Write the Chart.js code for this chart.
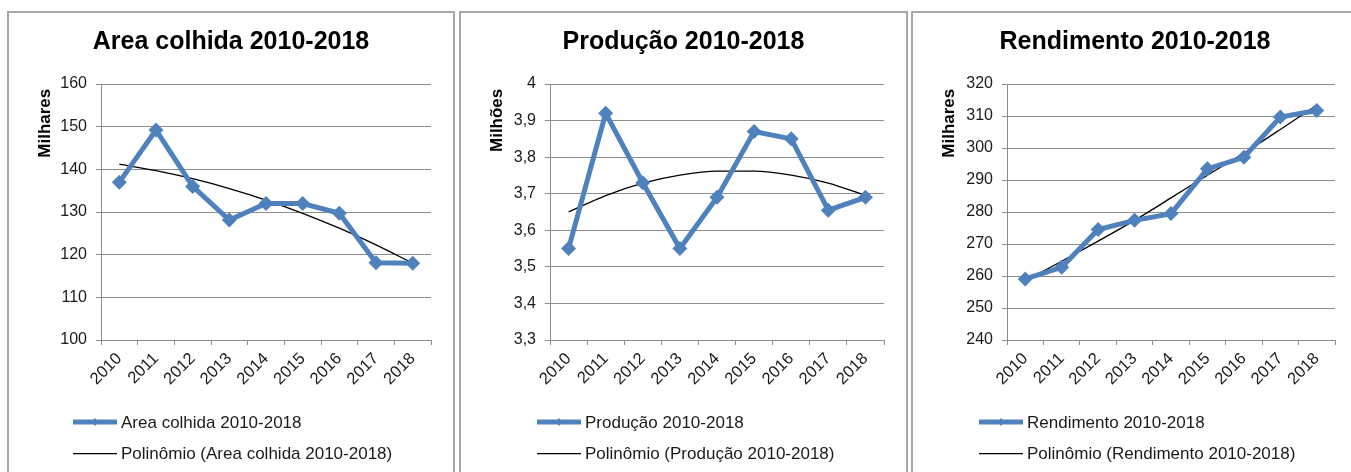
<!DOCTYPE html>
<html>
<head>
<meta charset="utf-8">
<script src="https://cdn.jsdelivr.net/npm/chart.js@4.4.1/dist/chart.umd.min.js"></script>
<style>
    html, body { margin: 0; padding: 0; background: #fff; overflow: hidden; }
    body { width: 1351px; height: 472px; position: relative; }
    .panel {
        position: absolute;
        top: 11px;
        height: 480px;
        border: 2px solid #a8a8a8;
        background: #fff;
    }
    .panel canvas { display: block; }
</style>
</head>
<body>
<div class="panel" style="left:7px; width:444px;"><canvas id="areaChart" width="444" height="459"></canvas></div>
<div class="panel" style="left:459px; width:445px;"><canvas id="prodChart" width="445" height="459"></canvas></div>
<div class="panel" style="left:911px; width:444px;"><canvas id="rendChart" width="444" height="459"></canvas></div>

<script>
// Dados 2010-2018
const years = ['2010', '2011', '2012', '2013', '2014', '2015', '2016', '2017', '2018'];

const areaColhida = [137, 149.2, 136, 128.1, 132, 132, 129.7, 118.1, 118];
const areaTrend = [141.2, 139.7, 137.8, 135.5, 132.8, 129.7, 126.2, 122.3, 118.0];

const producao = [3.55, 3.92, 3.73, 3.55, 3.69, 3.87, 3.85, 3.655, 3.69];
const producaoTrend = [3.65, 3.695, 3.729, 3.751, 3.762, 3.762, 3.751, 3.729, 3.695];

const rendimento = [259.1, 262.7, 274.5, 277.4, 279.5, 293.5, 297.1, 309.7, 311.7];
const rendimentoTrend = [258.5, 264.6, 270.9, 277.4, 284.4, 291.5, 298.4, 305.8, 313.4];

const BLUE = '#4f81bd';
const GRID = '#8c8c8c';
const TEXT = '#1a1a1a';
const FONT = "'Liberation Sans', Arial, sans-serif";

// legenda desenhada abaixo do eixo x (uma linha por série)
const bottomLegend = {
    id: 'bottomLegend',
    afterDraw(chart, args, opts) {
        const ctx = chart.ctx;
        const base = chart.chartArea.bottom + 82;
        ctx.save();
        chart.data.datasets.forEach((ds, i) => {
            const y = base + i * 31.6;
            const x0 = opts.x;
            const x1 = x0 + 44;
            ctx.strokeStyle = ds.borderColor;
            ctx.lineWidth = ds.borderWidth;
            ctx.beginPath();
            ctx.moveTo(x0, y);
            ctx.lineTo(x1, y);
            ctx.stroke();
            if (ds.pointRadius > 0) {
                const cx = (x0 + x1) / 2;
                ctx.fillStyle = ds.borderColor;
                ctx.beginPath();
                ctx.moveTo(cx, y - 4);
                ctx.lineTo(cx + 3, y);
                ctx.lineTo(cx, y + 4);
                ctx.lineTo(cx - 3, y);
                ctx.closePath();
                ctx.fill();
            }
            ctx.fillStyle = TEXT;
            ctx.font = '17px ' + FONT;
            ctx.textBaseline = 'middle';
            ctx.textAlign = 'left';
            ctx.fillText(ds.label, x1 + 4, y + 1);
        });
        ctx.restore();
    }
};

function formatTick(value, decimals) {
    const v = Number(value.toFixed(decimals));
    return String(v).replace('.', ',');
}

function makeChart(id, cfg) {
    const ctx = document.getElementById(id).getContext('2d');
    return new Chart(ctx, {
        type: 'line',
        data: {
            labels: years,
            datasets: [{
                label: cfg.name,
                data: cfg.values,
                borderColor: BLUE,
                backgroundColor: BLUE,
                borderWidth: 5,
                pointStyle: 'rectRot',
                pointRadius: 7.5,
                pointBorderWidth: 0,
                tension: 0
            }, {
                label: 'Polinômio (' + cfg.name + ')',
                data: cfg.trend,
                borderColor: '#000',
                borderWidth: 1.3,
                pointRadius: 0,
                cubicInterpolationMode: 'monotone'
            }]
        },
        options: {
            responsive: false,
            animation: false,
            events: [],
            layout: { padding: { left: 0, right: 0, top: 0, bottom: 82 } },
            plugins: {
                legend: { display: false },
                tooltip: { enabled: false },
                title: {
                    display: true,
                    text: cfg.name,
                    color: '#000',
                    font: { family: FONT, size: 25, weight: 'bold' },
                    padding: { top: 14, bottom: 27 }
                },
                bottomLegend: { x: cfg.legendX }
            },
            scales: {
                x: {
                    offset: true,
                    grid: { drawOnChartArea: false, offset: true, color: GRID, tickLength: 5 },
                    border: { color: GRID },
                    ticks: {
                        color: TEXT,
                        font: { family: FONT, size: 16.5 },
                        minRotation: 45,
                        maxRotation: 45,
                        autoSkip: false,
                        padding: 4
                    },
                    afterFit: s => { s.height = 50; }
                },
                y: {
                    min: cfg.min,
                    max: cfg.max,
                    grid: { color: GRID, tickLength: 5 },
                    border: { color: GRID },
                    ticks: {
                        stepSize: cfg.step,
                        color: TEXT,
                        font: { family: FONT, size: 16 },
                        padding: 9,
                        callback: v => formatTick(v, cfg.decimals)
                    },
                    title: {
                        display: true,
                        text: cfg.unit + ' ',
                        align: 'end',
                        color: '#000',
                        font: { family: FONT, size: 17, weight: 'bold' },
                        padding: { top: 26 }
                    },
                    afterFit: s => { s.width = cfg.axisWidth; }
                },
                // eixo vazio à direita: só reserva a margem, o título fica centrado no painel
                margem: {
                    position: 'right',
                    grid: { display: false },
                    ticks: { display: false },
                    border: { display: false },
                    afterFit: s => { s.width = 22; }
                }
            }
        },
        plugins: [bottomLegend]
    });
}

makeChart('areaChart', {
    name: 'Area colhida 2010-2018', unit: 'Milhares',
    values: areaColhida, trend: areaTrend,
    min: 100, max: 160, step: 10, decimals: 0,
    axisWidth: 92, legendX: 64
});

makeChart('prodChart', {
    name: 'Produção 2010-2018', unit: 'Milhões',
    values: producao, trend: producaoTrend,
    min: 3.3, max: 4, step: 0.1, decimals: 1,
    axisWidth: 89, legendX: 76
});

makeChart('rendChart', {
    name: 'Rendimento 2010-2018', unit: 'Milhares',
    values: rendimento, trend: rendimentoTrend,
    min: 240, max: 320, step: 10, decimals: 0,
    axisWidth: 94, legendX: 66
});
</script>
</body>
</html>
